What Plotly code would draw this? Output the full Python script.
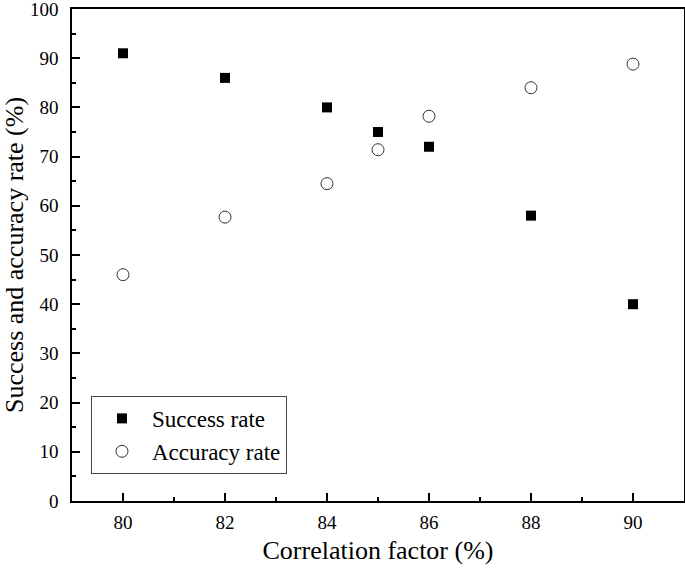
import plotly.graph_objects as go

factor = [80, 82, 84, 85, 86, 88, 90]
success_rate = [91, 86, 80, 75, 72, 58, 40]
accuracy_rate = [46, 57.7, 64.5, 71.4, 78.2, 84, 88.8]

font = "Liberation Serif"

fig = go.Figure()
fig.add_trace(go.Scatter(x=factor, y=success_rate, mode="markers", name="Success rate",
                         marker=dict(symbol="square", size=10, color="black")))
fig.add_trace(go.Scatter(x=factor, y=accuracy_rate, mode="markers", name="Accuracy rate",
                         marker=dict(symbol="circle-open", size=12, color="#333333",
                                     line=dict(width=1))))

axis = dict(showline=True, linecolor="black", linewidth=1.5, mirror=True,
            ticks="inside", ticklen=8, tickwidth=1.5, tickcolor="black",
            showgrid=False, zeroline=False, automargin=False,
            ticklabeloverflow="allow",
            tickfont=dict(family=font, size=19, color="black"))

fig.update_xaxes(range=[79, 91], tickvals=[80, 82, 84, 86, 88, 90],
                 minor=dict(ticks="inside", ticklen=4, tickwidth=1.5, tickcolor="black",
                            tickvals=[81, 83, 85, 87, 89]),
                 ticklabelstandoff=3,
                 title=dict(text="Correlation factor (%)", font=dict(family=font, size=26, color="black"),
                            standoff=9),
                 **axis)
fig.update_yaxes(range=[0, 100], dtick=10,
                 minor=dict(ticks="inside", ticklen=4, tickwidth=1.5, tickcolor="black", dtick=5),
                 ticklabelstandoff=8,
                 title=dict(text="Success and accuracy rate (%)", font=dict(family=font, size=26, color="black"),
                            standoff=8),
                 **axis)

fig.update_layout(
    width=685, height=574,
    margin=dict(l=72, r=1, t=9, b=73),
    font=dict(family=font),
    plot_bgcolor="white", paper_bgcolor="white",
    legend=dict(x=0.031, y=0.055, xanchor="left", yanchor="bottom",
                bordercolor="#444444", borderwidth=1, bgcolor="white",
                font=dict(family=font, size=23, color="black"),
                itemwidth=50, tracegroupgap=0),
)

# drop the default body margin so the figure fills the window
fig.write_html("out.html", config={"displayModeBar": False},
               post_script="document.body.style.margin='0';document.body.style.overflow='hidden';")
